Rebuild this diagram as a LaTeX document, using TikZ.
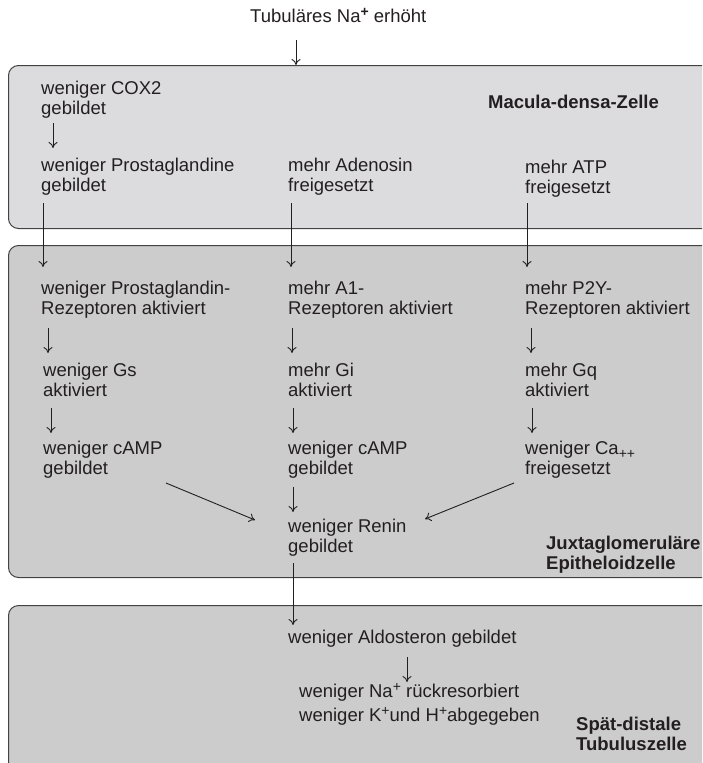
\documentclass[tikz,border=0pt]{standalone}
\usepackage{fontspec}
\setmainfont{Liberation Sans}
\usetikzlibrary{arrows.meta}
\definecolor{cellA}{HTML}{DCDCDE}
\definecolor{cellB}{HTML}{CCCCCC}
\definecolor{ink}{HTML}{231F20}
\newcommand{\hochplus}[1]{\raisebox{6.5pt}{\fontsize{14}{14}\selectfont #1}}
\newcommand{\tiefplus}[1]{\raisebox{-4.5pt}{\fontsize{14}{14}\selectfont #1}}
\tikzset{
  cellbox/.style={draw=ink!85, line width=1pt, rounded corners=10pt, anchor=north west, minimum width=704pt, inner sep=0pt},
  txt/.style={anchor=north west, align=left, inner sep=0pt, text=ink},
  lbl/.style={txt, font=\fontsize{18.5}{20}\selectfont\bfseries},
  arr/.style={-{To[length=6pt,width=9pt]}, line width=0.9pt, draw=ink},
}
\begin{document}
\begin{tikzpicture}[x=1pt, y=-1pt, font=\fontsize{18.5}{20}\selectfont]
  \useasboundingbox (0,0) rectangle (702,763);
  \clip (0,0) rectangle (702,763);

  % Cells
  \node[cellbox, fill=cellA, minimum height=163pt] (MD) at (8,65) {};
  \node[cellbox, fill=cellB, minimum height=332pt] (JG) at (8,245) {};
  \node[cellbox, fill=cellB, minimum height=185pt] (TB) at (8,605) {};

  % Stimulus
  \node[txt] (Na) at (250,8) {Tubuläres Na\hochplus{\textbf{+}}\ erhöht};

  % Macula densa
  \node[txt] (cox) at (41,80.5) {weniger COX2\\gebildet};
  \node[lbl] (mdz) at (488,94.5) {Macula-densa-Zelle};
  \node[txt] (pgl) at (41,157.5) {weniger Prostaglandine\\gebildet};
  \node[txt] (ade) at (288,157.5) {mehr Adenosin\\freigesetzt};
  \node[txt] (atp) at (525,159.5) {mehr ATP\\freigesetzt};

  % Juxtaglomerular cell
  \node[txt] (pgr) at (41,280.5) {weniger Prostaglandin-\\Rezeptoren aktiviert};
  \node[txt] (a1r) at (288,280.5) {mehr A1-\\Rezeptoren aktiviert};
  \node[txt] (p2y) at (525,280.5) {mehr P2Y-\\Rezeptoren aktiviert};
  \node[txt] (gs) at (43,362.5) {weniger Gs\\aktiviert};
  \node[txt] (gi) at (288,362.5) {mehr Gi\\aktiviert};
  \node[txt] (gq) at (525,362.5) {mehr Gq\\aktiviert};
  \node[txt] (cs) at (43,440.5) {weniger cAMP\\gebildet};
  \node[txt] (ci) at (288,440.5) {weniger cAMP\\gebildet};
  \node[txt] (ca) at (525,440.5) {weniger Ca\tiefplus{++}\\freigesetzt};
  \node[txt] (ren) at (288,518.5) {weniger Renin\\gebildet};
  \node[lbl] (jgz) at (546,535.5) {Juxtaglomeruläre\\Epitheloidzelle};

  % Distal tubule
  \node[txt] (ald) at (288,629.5) {weniger Aldosteron gebildet};
  \node[txt] (nak) at (299,683) {weniger Na\hochplus{+} rückresorbiert\\[4pt]weniger K\hochplus{+}und H\hochplus{+}abgegeben};
  \node[lbl] (sdt) at (576,716.5) {Spät-distale\\Tubuluszelle};

  % Arrows
  \draw[arr] ([xshift=46,yshift=-32]Na.north west) -- ([xshift=288]MD.north west);
  \draw[arr] ([xshift=12,yshift=-42.5]cox.north west) -- ([xshift=12,yshift=9.5]pgl.north west);
  \draw[arr] ([xshift=2,yshift=-45.5]pgl.north west) -- ([xshift=2,yshift=13.5]pgr.north west);
  \draw[arr] ([xshift=3,yshift=-45.5]ade.north west) -- ([xshift=3,yshift=13.5]a1r.north west);
  \draw[arr] ([xshift=2,yshift=-43.5]atp.north west) -- ([xshift=2,yshift=13.5]p2y.north west);
  \draw[arr] ([xshift=7,yshift=-47.5]pgr.north west) -- ([xshift=5,yshift=9.5]gs.north west);
  \draw[arr] ([xshift=4,yshift=-47.5]a1r.north west) -- ([xshift=4,yshift=9.5]gi.north west);
  \draw[arr] ([xshift=6,yshift=-47.5]p2y.north west) -- ([xshift=6,yshift=9.5]gq.north west);
  \draw[arr] ([xshift=8,yshift=-45.5]gs.north west) -- ([xshift=8,yshift=7.5]cs.north west);
  \draw[arr] ([xshift=5,yshift=-45.5]gi.north west) -- ([xshift=5,yshift=7.5]ci.north west);
  \draw[arr] ([xshift=7,yshift=-45.5]gq.north west) -- ([xshift=7,yshift=7.5]ca.north west);
  \draw[arr] ([xshift=123,yshift=-42.5]cs.north west) -- ([xshift=-33,yshift=-1.5]ren.north west);
  \draw[arr] ([xshift=5,yshift=-46.5]ci.north west) -- ([xshift=5,yshift=6.5]ren.north west);
  \draw[arr] ([xshift=-11,yshift=-42.5]ca.north west) -- ([xshift=137,yshift=-0.5]ren.north west);
  \draw[arr] ([xshift=5,yshift=-44.5]ren.north west) -- ([xshift=5,yshift=4.5]ald.north west);
  \draw[arr] ([xshift=119,yshift=-27.5]ald.north west) -- ([xshift=108,yshift=1]nak.north west);
\end{tikzpicture}
\end{document}
